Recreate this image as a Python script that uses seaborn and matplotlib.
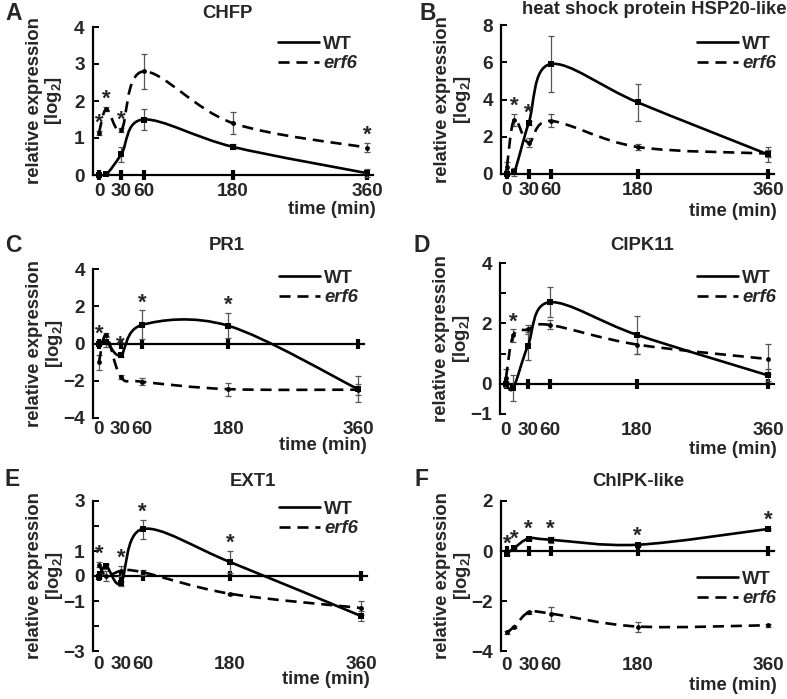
import numpy as np
import pandas as pd
import matplotlib
matplotlib.use("Agg")
import matplotlib.pyplot as plt
import seaborn as sns
from matplotlib.path import Path
from matplotlib.patches import PathPatch
from matplotlib.lines import Line2D

sns.set_theme(style="white")
plt.rcParams['font.family'] = ['Liberation Sans', 'DejaVu Sans']
plt.rcParams['font.weight'] = 'bold'
plt.rcParams['mathtext.fontset'] = 'custom'
plt.rcParams['mathtext.rm'] = 'Liberation Sans:bold'
plt.rcParams['mathtext.it'] = 'Liberation Sans:italic:bold'
plt.rcParams['mathtext.bf'] = 'Liberation Sans:bold'

# ---------------- data ----------------
times = [0, 10, 30, 60, 180, 360]
time_ticks = [0, 30, 60, 180, 360]
series_names = ["WT", "erf6"]

titles = ["CHFP", "heat shock protein HSP20-like", "PR1", "CIPK11", "EXT1", "ChlPK-like"]
letters = ["A", "B", "C", "D", "E", "F"]

chfp_wt = [0.0, 0.02, 0.56, 1.50, 0.76, 0.05]
chfp_wt_err = [0.03, 0.03, 0.20, 0.28, 0.07, 0.10]
chfp_erf6 = [1.14, 1.78, 1.22, 2.80, 1.40, 0.74]
chfp_erf6_err = [0.05, 0.05, 0.05, 0.48, 0.30, 0.13]
chfp_sig = [0, 1, 2, 5]

hsp_wt = [0.0, 0.10, 2.75, 5.90, 3.85, 1.05]
hsp_wt_err = [0.05, 0.20, 0.10, 1.50, 1.00, 0.40]
hsp_erf6 = [0.40, 2.92, 1.68, 2.85, 1.45, 1.10]
hsp_erf6_err = [0.27, 0.32, 0.25, 0.35, 0.15, 0.20]
hsp_sig = [1, 2]

pr1_wt = [0.0, 0.10, -0.62, 1.00, 0.95, -2.45]
pr1_wt_err = [0.10, 0.30, 0.10, 0.78, 0.68, 0.70]
pr1_erf6 = [-1.00, 0.45, -1.78, -2.05, -2.45, -2.48]
pr1_erf6_err = [0.40, 0.10, 0.10, 0.20, 0.35, 0.30]
pr1_sig = [0, 2, 3, 4]

cipk_wt = [0.0, -0.14, 1.25, 2.70, 1.62, 0.28]
cipk_wt_err = [0.05, 0.44, 0.45, 0.50, 0.62, 0.20]
cipk_erf6 = [0.20, 1.60, 1.80, 1.95, 1.30, 0.82]
cipk_erf6_err = [0.30, 0.20, 0.15, 0.15, 0.30, 0.50]
cipk_sig = [1]

ext_wt = [-0.02, 0.40, -0.28, 1.88, 0.56, -1.60]
ext_wt_err = [0.05, 0.10, 0.10, 0.38, 0.45, 0.20]
ext_erf6 = [0.45, 0.0, 0.20, 0.15, -0.71, -1.28]
ext_erf6_err = [0.10, 0.20, 0.20, 0.10, 0.05, 0.28]
ext_sig = [0, 2, 3, 4]

chl_wt = [-0.10, 0.12, 0.50, 0.45, 0.25, 0.88]
chl_wt_err = [0.05, 0.05, 0.05, 0.12, 0.05, 0.05]
chl_erf6 = [-3.25, -3.03, -2.45, -2.50, -3.02, -2.97]
chl_erf6_err = [0.05, 0.05, 0.05, 0.28, 0.20, 0.05]
chl_sig = [0, 1, 2, 3, 4, 5]

yticks_list = [[0, 1, 2, 3, 4], [0, 2, 4, 6, 8], [-4, -2, 0, 2, 4],
               [-1, 0, 2, 4], [-3, -1, 0, 1, 3], [-4, -2, 0, 2]]
yminor_list = [[], [], [], [1, 3], [-2, 2], []]
ylims = [(0, 4), (0, 8), (-4, 4), (-1, 4), (-3, 3), (-4, 2)]

panels = [
    (chfp_wt, chfp_wt_err, chfp_erf6, chfp_erf6_err, chfp_sig),
    (hsp_wt, hsp_wt_err, hsp_erf6, hsp_erf6_err, hsp_sig),
    (pr1_wt, pr1_wt_err, pr1_erf6, pr1_erf6_err, pr1_sig),
    (cipk_wt, cipk_wt_err, cipk_erf6, cipk_erf6_err, cipk_sig),
    (ext_wt, ext_wt_err, ext_erf6, ext_erf6_err, ext_sig),
    (chl_wt, chl_wt_err, chl_erf6, chl_erf6_err, chl_sig),
]

# ---------------- layout (pixels) ----------------
W, H = 787, 699
# x pixel of t=0, x pixel of t=360, y pixel of top, y pixel of bottom
axes_px = [(99, 367, 27, 175), (507, 768, 25, 174), (99, 358, 269, 418),
           (506, 768, 263, 414), (99, 361, 501, 651), (507, 768, 501, 651)]
title_px = [(227, 14), (654, 10), (227, 245), (642, 246), (253, 482), (638, 482)]
letter_px = [(14, 14), (428, 13), (13, 245), (422, 245), (12, 480), (422, 480)]
legend_px = [(278, 54), (697, 54), (279, 288), (697, 288), (279, 519), (697, 589)]
ticklab_off = [16, 16, 11, 16, 13, 14]
timelab_off = [35, 38, 27, 36, 29, 34]
XMIN, XMAX = -8, 368
FS = 13.3
TFS = 13.7


def smooth_path(xs, ys):
    pts = np.column_stack([xs, ys]).astype(float)
    n = len(pts)
    verts = [pts[0]]
    codes = [Path.MOVETO]
    for i in range(n - 1):
        p0 = pts[i - 1] if i > 0 else pts[i]
        p1, p2 = pts[i], pts[i + 1]
        p3 = pts[i + 2] if i + 2 < n else pts[i + 1]
        verts += [p1 + (p2 - p0) / 6.0, p2 - (p3 - p1) / 6.0, p2]
        codes += [Path.CURVE4] * 3
    return Path(verts, codes)


fig = plt.figure(figsize=(W / 100, H / 100), dpi=100)

for k, (wt, wt_err, er, er_err, sig) in enumerate(panels):
    x0, x360, ytop, ybot = axes_px[k]
    s = (x360 - x0) / 360.0
    left = x0 + XMIN * s
    right = x0 + XMAX * s
    ax = fig.add_axes([left / W, 1 - ybot / H, (right - left) / W, (ybot - ytop) / H])
    ax.set_facecolor('none')
    ax.set_xlim(XMIN, XMAX)
    ax.set_ylim(*ylims[k])

    # smooth curves
    ax.add_patch(PathPatch(smooth_path(times, wt), fill=False, edgecolor='black',
                           lw=1.9, zorder=4, capstyle='butt'))
    ax.add_patch(PathPatch(smooth_path(times, er), fill=False, edgecolor='black',
                           lw=1.9, linestyle=(0, (4.2, 2.6)), zorder=4, capstyle='butt'))

    # error bars
    ax.errorbar(times, wt, yerr=wt_err, fmt='none', ecolor='#555555', elinewidth=0.9,
                capsize=2.4, capthick=0.9, zorder=3, clip_on=False)
    ax.errorbar(times, er, yerr=er_err, fmt='none', ecolor='#555555', elinewidth=0.9,
                capsize=2.4, capthick=0.9, zorder=3, clip_on=False)

    # markers via seaborn
    df = pd.DataFrame({'time': times * 2, 'expr': list(wt) + list(er),
                       'genotype': [series_names[0]] * 6 + [series_names[1]] * 6})
    sns.scatterplot(data=df[df.genotype == 'WT'], x='time', y='expr', marker='s', s=18,
                    color='black', linewidth=0, legend=False, ax=ax, zorder=5, clip_on=False)
    sns.scatterplot(data=df[df.genotype == 'erf6'], x='time', y='expr', marker='o', s=12,
                    color='black', linewidth=0, legend=False, ax=ax, zorder=5, clip_on=False)

    # significance stars
    for i in sig:
        top = max(wt[i] + wt_err[i], er[i] + er_err[i])
        ax.annotate('*', (times[i], top), xytext=(0, 1.5), textcoords='offset points',
                    ha='center', va='baseline', fontsize=16, fontweight='bold',
                    annotation_clip=False, zorder=6)

    # axes styling
    for sp in ['top', 'right']:
        ax.spines[sp].set_visible(False)
    ax.spines['left'].set_linewidth(1.6)
    ax.spines['left'].set_color('black')
    ax.spines['bottom'].set_linewidth(1.6)
    ax.spines['bottom'].set_color('black')
    ax.spines['bottom'].set_position(('data', 0))
    ax.spines['bottom'].set_zorder(2)

    ax.set_xticks(time_ticks)
    ax.tick_params(axis='x', which='major', direction='inout', length=7, width=3,
                   color='black', labelbottom=False, bottom=True)
    ax.set_yticks(yticks_list[k])
    ax.set_yticks(yminor_list[k], minor=True)
    ax.tick_params(axis='y', which='both', direction='in', length=4, width=1.4,
                   color='black', left=True, labelsize=TFS, pad=6)
    for lab in ax.get_yticklabels():
        lab.set_fontweight('bold')

    # tick labels at the bottom of the axes
    sec = ax.secondary_xaxis('bottom')
    sec.set_xticks(time_ticks)
    sec.set_xticklabels([str(t) for t in time_ticks])
    sec.spines['bottom'].set_visible(False)
    sec.tick_params(axis='x', length=0, labelsize=TFS, pad=(ticklab_off[k] - 8) * 0.72)
    for lab in sec.get_xticklabels():
        lab.set_fontweight('bold')

    # axis labels
    hpx = ybot - ytop
    wpx = right - left
    ax.set_xlabel("time (min)", fontsize=FS, fontweight='bold', loc='right')
    ax.xaxis.set_label_coords((x360 + 9 - left) / wpx, -timelab_off[k] / hpx)
    ax.xaxis.label.set_verticalalignment('center')
    ax.xaxis.label.set_horizontalalignment('right')

    ax.set_ylabel("relative expression\n[log$_2$]", fontsize=FS, fontweight='bold',
                  linespacing=1.05)
    ax.yaxis.set_label_coords(-48 / wpx, 0.5)
    ax.yaxis.label.set_verticalalignment('center')

    # title & panel letter
    tx, ty = title_px[k]
    fig.text(tx / W, 1 - ty / H, titles[k], ha='center', va='center', fontsize=FS,
             fontweight='bold')
    lx, ly = letter_px[k]
    fig.text(lx / W, 1 - ly / H, letters[k], ha='center', va='center', fontsize=16.5,
             fontweight='bold')

    # legend
    handles = [Line2D([0], [0], color='black', lw=1.9),
               Line2D([0], [0], color='black', lw=1.9, linestyle=(0, (4.2, 2.6)))]
    gx, gy = legend_px[k]
    leg = ax.legend(handles, series_names, loc='center left',
                    bbox_to_anchor=(gx / W, 1 - gy / H), bbox_transform=fig.transFigure,
                    frameon=False, fontsize=FS, handlelength=2.2, handletextpad=0.25,
                    labelspacing=0.15, borderpad=0, borderaxespad=0)
    for t in leg.get_texts():
        t.set_fontweight('bold')
    leg.get_texts()[1].set_fontstyle('italic')

fig.savefig("out.png", dpi=100)
